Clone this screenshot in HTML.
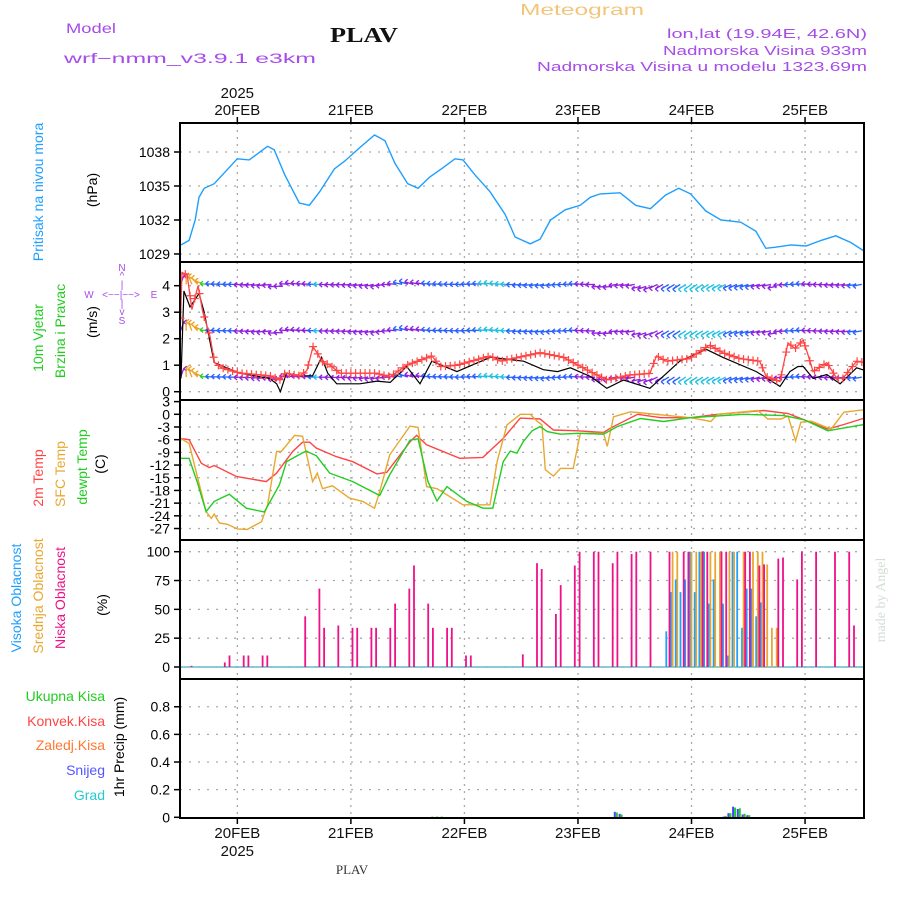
<!DOCTYPE html>
<html><head><meta charset="utf-8"><title>Meteogram PLAV</title>
<style>
html,body{margin:0;padding:0;background:#fff;}
svg{display:block;font-family:"Liberation Sans",sans-serif;}
</style></head>
<body>
<svg id="chart" width="900" height="900" viewBox="0 0 900 900" xmlns="http://www.w3.org/2000/svg">
<rect width="900" height="900" fill="#fff"/>
<g>
<text x="66" y="33" font-size="14" fill="#a64ce8" textLength="50" lengthAdjust="spacingAndGlyphs">Model</text>
<text x="64" y="63" font-size="14" fill="#a64ce8" textLength="252" lengthAdjust="spacingAndGlyphs">wrf−nmm_v3.9.1  e3km</text>
<text x="330" y="42" font-size="21" font-weight="bold" font-family="Liberation Serif, serif" fill="#111" textLength="68" lengthAdjust="spacingAndGlyphs">PLAV</text>
<text x="520" y="15" font-size="16" fill="#f2c67a" textLength="124" lengthAdjust="spacingAndGlyphs">Meteogram</text>
<text x="867" y="38" font-size="13" fill="#a64ce8" text-anchor="end" textLength="200" lengthAdjust="spacingAndGlyphs">lon,lat (19.94E, 42.6N)</text>
<text x="867" y="55" font-size="13" fill="#a64ce8" text-anchor="end" textLength="204" lengthAdjust="spacingAndGlyphs">Nadmorska Visina 933m</text>
<text x="867" y="71" font-size="13" fill="#a64ce8" text-anchor="end" textLength="330" lengthAdjust="spacingAndGlyphs">Nadmorska Visina u modelu 1323.69m</text>
</g>
<g font-size="14">
<text transform="translate(43,192) rotate(-90)" text-anchor="middle" fill="#1e9fff">Pritisak na nivou mora</text>
<text transform="translate(97,190) rotate(-90)" text-anchor="middle" fill="#000">(hPa)</text>
<text transform="translate(43,338) rotate(-90)" text-anchor="middle" fill="#22cc22">10m Vjetar</text>
<text transform="translate(65,331) rotate(-90)" text-anchor="middle" fill="#22cc22">Brzina i Pravac</text>
<text transform="translate(97,322) rotate(-90)" text-anchor="middle" fill="#000">(m/s)</text>
<g fill="#a64ce8" font-size="10" text-anchor="middle">
<text x="122" y="271">N</text><text x="122" y="279">^</text><text x="122" y="288">|</text>
<text x="89" y="298">W</text><text x="121" y="298">&lt;−−|−−&gt;</text><text x="154" y="298">E</text>
<text x="122" y="307">|</text><text x="122" y="315">v</text><text x="122" y="324">S</text>
</g>
<text transform="translate(43,478) rotate(-90)" text-anchor="middle" fill="#ff4444">2m Temp</text>
<text transform="translate(65,474) rotate(-90)" text-anchor="middle" fill="#e8a830">SFC Temp</text>
<text transform="translate(87,467) rotate(-90)" text-anchor="middle" fill="#22cc22">dewpt Temp</text>
<text transform="translate(105,464) rotate(-90)" text-anchor="middle" fill="#000">(C)</text>
<text transform="translate(21,598) rotate(-90)" text-anchor="middle" fill="#1e9fff">Visoka Oblacnost</text>
<text transform="translate(43,596) rotate(-90)" text-anchor="middle" fill="#e8a830">Srednja Oblacnost</text>
<text transform="translate(65,598) rotate(-90)" text-anchor="middle" fill="#ee1188">Niska Oblacnost</text>
<text transform="translate(107,605) rotate(-90)" text-anchor="middle" fill="#000">(%)</text>
<text x="105" y="701" text-anchor="end" fill="#22cc22">Ukupna  Kisa</text>
<text x="105" y="726" text-anchor="end" fill="#ff4444">Konvek.Kisa</text>
<text x="105" y="750" text-anchor="end" fill="#ff7733">Zaledj.Kisa</text>
<text x="105" y="775" text-anchor="end" fill="#5555ff">Snijeg</text>
<text x="105" y="800" text-anchor="end" fill="#22cccc">Grad</text>
<text transform="translate(124,747) rotate(-90)" text-anchor="middle" fill="#000">1hr Precip (mm)</text>
<text transform="translate(885,600) rotate(-90)" text-anchor="middle" fill="#d4ddd4" font-family="Liberation Serif, serif">made by Angel</text>
<text x="352" y="874" text-anchor="middle" font-size="13" font-family="Liberation Serif, serif" fill="#333">PLAV</text>
</g>
<g id="plot"></g>
</svg>
<script>
// ---------- data ----------
const dayLabels = ["20FEB","21FEB","22FEB","23FEB","24FEB","25FEB"];
const dayHours = [24,48,72,96,120,144];
const presTicks = [1029,1032,1035,1038];
const windTicks = [0,1,2,3,4];
const tempTicks = [3,0,-3,-6,-9,-12,-15,-18,-21,-24,-27];
const cloudTicks = [0,25,50,75,100];
const precipTicks = [0,0.2,0.4,0.6,0.8];

const presT = [12.1,13.8,15.1,15.9,17,19.1,24,26.5,30.4,31.8,34,37.1,39.2,41.4,44.5,46.7,49.9,53,55.2,57.3,60,62.2,64.7,67.4,70,71.7,74.2,77.4,80.6,82.7,85.9,88,90.2,93.3,96.5,98.6,100.7,104.9,108.2,111.3,114.5,117.3,119.8,123,126.2,130.4,133.6,135.7,137.8,141,144.2,147.4,150.5,153.7,156.7];
const presV = [1029.8,1030.2,1032,1034,1034.8,1035.2,1037.4,1037.3,1038.5,1038.2,1036,1033.5,1033.3,1034.5,1036.5,1037.2,1038.4,1039.5,1039,1037,1035.2,1034.8,1035.8,1036.6,1037.4,1037.3,1036,1034.5,1032.5,1030.5,1029.9,1030.3,1032,1032.9,1033.3,1034,1034.3,1034.4,1033.3,1033,1034.2,1034.8,1034.3,1032.8,1032,1031.8,1031,1029.5,1029.6,1029.8,1029.7,1030.2,1030.6,1030,1029.2];

const gustT = [11.9,12.3,13.4,14.4,15.7,16.7,18.2,19.2,20.7,24.6,30.9,33,34.1,37.2,38.7,40,41.1,42.1,43.6,45.7,49.9,53.1,56.3,59.8,65.1,66.9,70.4,77.5,79.6,88,92.9,95,98.7,102.1,107,111.2,112.6,114.7,119.5,123.8,126.6,130.2,134.4,135.8,138.7,140.4,141.9,143.6,144.6,145.7,148.6,150.7,152,154.9,156.7];
const gustV = [2.2,4.5,4.4,3.1,4.0,3.0,2.1,1.1,0.9,0.7,0.6,0.45,0.7,0.6,0.8,1.7,1.4,1.1,1.0,0.7,0.7,0.7,0.57,1.0,1.35,0.95,1.0,1.35,1.15,1.47,1.3,1.1,0.75,0.44,0.63,0.69,1.35,1.15,1.25,1.76,1.47,1.25,1.15,0.57,0.38,1.84,1.63,1.95,1.4,0.76,1.1,0.5,0.5,1.15,1.1];
const speedT = [12.1,12.7,14,15.9,17,18.1,19.1,24.4,30.8,32.3,33.1,34.4,37.1,39.9,41.8,43.1,45,49.9,53.5,56.3,59.8,62.6,65.1,70.4,77.5,84.5,88.7,91.7,94.4,98.7,102.1,105.6,111.2,114.7,117.5,123.1,126.6,133.7,138.7,140.8,142.5,143.6,145.7,148.6,151.4,154.9,156.7];
const speedV = [0.5,3.8,3.2,3.7,3.0,2.0,1.1,0.7,0.5,0.3,0.0,0.7,0.6,0.6,1.3,0.7,0.3,0.3,0.4,0.35,0.95,0.3,1.15,0.76,1.3,1.15,0.83,0.76,0.9,0.57,0.13,0.44,0.13,0.69,1.15,1.6,1.3,0.76,0.2,0.76,0.95,0.95,0.5,0.65,0.3,0.9,0.8];
// wind direction (deg, from) every 6h starting at 12h
const dirT = [12,18,24,30,36,42,48,54,60,66,72,78,84,90,96,102,108,114,120,126,132,138,144,150,156];
const dirV = [200,95,90,80,100,90,85,75,110,95,90,100,85,80,95,85,80,60,55,60,70,80,95,85,80];

const t2T = [11.7,13.8,16.4,18.1,19.1,23.8,30.1,32.3,35.7,37.8,39.3,40.7,44.9,48.4,53.5,55.6,60.5,61.9,64,71,75.9,80.2,83.8,88,90.8,95.9,101.4,102.8,108.6,113.5,119.8,125.5,135.3,140.4,143.8,148.8,152.2,155.9,156.7];
const t2V = [-5.7,-6,-11.6,-12.6,-12.1,-14.7,-15.9,-13.9,-8.8,-6.6,-6.6,-8,-10,-11.2,-14.1,-13.7,-6.5,-5,-7.2,-10.4,-10.2,-5.7,-0.9,-1.1,-3.7,-3.9,-4.3,-3.3,0,-0.8,-0.8,0,0.9,0.2,-1.3,-3.5,-2.4,-1.1,-0.9];
const sfcT = [10,13.8,17.4,18.5,19.1,20.2,21.9,24,26.1,29.1,30.4,32.3,33.3,36.1,37.8,39.9,40.9,42,44.1,47.7,50.5,53,54.1,56.2,60.5,62.2,64,66.2,71.7,77.4,78.9,81,83.8,85.9,87.4,88.4,89.1,90.8,92.3,95,96.5,101.4,102.2,103.5,107.1,110.7,119.8,124.1,125.5,134,136.1,138.9,140.4,142,143.1,145.3,149.5,152.2,155.9,156.7];
const sfcV = [-4.3,-6.9,-23,-24.6,-23.6,-25.7,-26,-27.1,-27.2,-25.4,-21.4,-8.8,-8.8,-5,-5.2,-15.9,-13.9,-17.6,-16.9,-19.8,-20.6,-22.2,-18.3,-9.6,-2.8,-3.1,-17.1,-17.6,-21.4,-21.4,-11.2,-2.5,0,0,-1.7,-2.5,-13.1,-14.6,-12.8,-12.8,-4.5,-4.5,-7.6,-0.6,0.6,0.2,-0.8,-1.7,0,0.9,-1.1,-1.1,-0.4,-6.3,-1.9,-1.6,-3.5,0.5,1,1];
const dewT = [9.6,11.1,13.8,15.5,17.4,19.1,22.3,25.9,29.7,32.9,34.4,37.8,38.6,40.7,43.5,48.4,54.1,56.2,60.5,62.2,64.3,66.2,68.3,72.5,75.9,78,80.2,81.7,83.1,84.4,86.3,88,89.5,92.3,95.9,101.4,104.3,109.2,114.1,119.8,131,139.5,143.8,148.8,155.9,156.7];
const dewV = [-12,-10.4,-10.4,-15.9,-23,-20.6,-18.9,-22.2,-23.1,-16.7,-11.2,-9.1,-8.7,-9.8,-13.9,-15.9,-19.2,-14.3,-6.1,-5.8,-15.9,-20.5,-17.1,-20.6,-22.2,-22.2,-11.2,-8.7,-9.2,-6.5,-3.9,-2.9,-4.1,-4.7,-4.5,-4.7,-2.9,-1,-1.7,-0.8,0,-0.3,-1.3,-3.9,-2.5,-2.4];

const lowH = [14,21,22,25,26,29,30,38,41,42,45,48,49,52,53,56,57,60,61,64,65,68,69,72,73,84,87,88,91,92,95,96,99,100,103,104,107,108,111,115,118,119,122,123,126,127,131,132,134,135,138,139,142,143,146,150,153,154];
const lowV = [1,4,10,10,10,10,10,44,68,34,36,34,34,34,34,34,55,68,88,55,34,34,34,10,10,11,90,85,46,71,88,100,100,100,90,100,98,100,100,100,100,100,100,100,100,100,100,100,88,89,94,95,76,100,100,100,100,36];
const midH = [116,117,120,121,122,124,125,126,128,129,131,133,134,135,136,137,138];
const midV = [100,100,100,100,100,100,100,100,100,100,100,100,100,100,89,34,34];
const highH = [115,116,117,118,119,120,121,122,123,124,125,127,128,129,130,131,132,133,134,135];
const highV = [31,65,76,65,76,100,65,100,100,55,76,55,10,100,100,34,68,68,44,56];

const precipH = [65,66,67,104,105,127,128,129,130,131,132];
const rainV = [0.005,0.005,0.005,0.035,0.02,0.01,0.03,0.07,0.065,0.025,0.015];
const snowV = [0,0,0,0.04,0.025,0.005,0.03,0.077,0.06,0.02,0.015];

// ---------- scales ----------
const L=180,R=864;
const X = h => 123.8 + 4.731*h;
const P = {pres:[123,262],wind:[262,400],temp:[400,540],cloud:[540,679],precip:[679,818]};
const yPres = v => 152 + (1038-v)*11.33;
const yWind = v => 391.7 - v*26.5;
const yTemp = v => 414.3 - v*4.23;
const yCloud = v => 667 - v*1.153;
const yPrecip = v => 817.3 - v*138.2;

const NS="http://www.w3.org/2000/svg";
const plot=document.getElementById('plot');
function el(tag,attrs,parent){const e=document.createElementNS(NS,tag);for(const k in attrs)e.setAttribute(k,attrs[k]);(parent||plot).appendChild(e);return e;}
function interp(ts,vs,h){if(h<=ts[0])return vs[0];for(let i=1;i<ts.length;i++){if(h<=ts[i]){const f=(h-ts[i-1])/(ts[i]-ts[i-1]);return vs[i-1]+f*(vs[i]-vs[i-1]);}}return vs[vs.length-1];}

// clip
const defs=el('defs',{});
Object.keys(P).forEach(k=>{const c=el('clipPath',{id:'clip-'+k},defs);el('rect',{x:L,y:P[k][0],width:R-L,height:P[k][1]-P[k][0]},c);});

// grids and ticks
function panelGrid(key,ticks,yf,fmt){
  const g=el('g',{});
  
  
  dayHours.forEach(h=>{const l=el('line',{x1:X(h),x2:X(h),y1:P[key][0],y2:P[key][1],stroke:'#aaa','stroke-width':1.3,'stroke-dasharray':'2,5'},g);});
  ticks.forEach(t=>{
    const y=yf(t);
    if(y>P[key][0]+3 && y<P[key][1]-3) el('line',{x1:L,x2:R,y1:y,y2:y,stroke:'#aaa','stroke-width':1.3,'stroke-dasharray':'2,7'},g);
    el('line',{x1:L-6,x2:L,y1:y,y2:y,stroke:'#000','stroke-width':1.5},g);
    const tx=el('text',{x:L-10,y:y+5,'text-anchor':'end','font-size':14,fill:'#000'},g);
    
    
    tx.textContent=fmt?fmt(t):t;
  });
}
panelGrid('pres',presTicks,yPres);
panelGrid('wind',windTicks,yWind);
panelGrid('temp',tempTicks,yTemp);
panelGrid('cloud',cloudTicks,yCloud);
panelGrid('precip',precipTicks,yPrecip,t=>t===0?'0':t.toFixed(1));

// pressure
function line(ts,vs,yf,key,color,name,w){
  const d=ts.map((t,i)=>(i?'L':'M')+X(t).toFixed(1)+','+yf(vs[i]).toFixed(1)).join('');
  const p=el('path',{d:d,fill:'none',stroke:color,'stroke-width':w||1.4,'clip-path':'url(#clip-'+key+')'});
  
  
  return p;
}
line(presT,presV,yPres,'pres','#1e9fff','pressure-line');

// wind arrows
const wg=el('g',{'clip-path':'url(#clip-wind)'});


const rowLevels=[4.05,2.3,0.55];
function spdColor(s){if(s>2.5)return '#f0a020';if(s>1.6)return '#30d030';if(s>1.2)return '#20c0e0';if(s>0.7)return '#2a60ff';return '#9020e0';}
for(let h=12;h<=156;h+=1.2){
  const s=interp(speedT,speedV,h), dir=interp(dirT,dirV,h)*Math.PI/180;
  const col=spdColor(s);
  rowLevels.forEach(lv=>{
    const x=X(h), y=yWind(lv)+(s<0.3?2:0);
    const dx=-Math.sin(dir)*9, dy=Math.cos(dir)*9;
    const a=el('path',{d:`M${x.toFixed(1)},${y.toFixed(1)}l${dx.toFixed(1)},${dy.toFixed(1)}m0,0l3,-2.5m-3,2.5l3,2.5`,stroke:col,'stroke-width':1.3,fill:'none'},wg);
    
    
  });
}
line(speedT,speedV,yWind,'wind','#000','wind-speed-line',1.2);
line(gustT,gustV,yWind,'wind','#ff4444','wind-gust-line',1.3);
const gm=el('g',{'clip-path':'url(#clip-wind)'});


for(let h=12;h<=156;h++){
  const x=X(h),y=yWind(interp(gustT,gustV,h));
  const m=el('path',{d:`M${x-4},${y}h8M${x},${y-4}v8`,stroke:'#ff4444','stroke-width':1.2},gm);
  
  
}

// temperatures
line(t2T,t2V,yTemp,'temp','#ff4444','temp-2m-line');
line(sfcT,sfcV,yTemp,'temp','#e8a830','temp-sfc-line');
line(dewT,dewV,yTemp,'temp','#22cc22','dewpoint-line');

// clouds
el('line',{x1:L,x2:R,y1:yCloud(0),y2:yCloud(0),stroke:'#66bbcc','stroke-width':1.5});
function bars(hs,vs,yf,key,color,off,w,name){
  const g=el('g',{'clip-path':'url(#clip-'+key+')'});
  
  
  hs.forEach((h,i)=>{
    if(vs[i]<=0)return;
    const y0=yf(0),y1=yf(vs[i]);
    const r=el('rect',{x:(X(h)+off-w/2).toFixed(1),y:y1.toFixed(1),width:w,height:(y0-y1).toFixed(1),fill:color},g);
    
    
  });
}
bars(highH,highV,yCloud,'cloud','#1ea0ff',-1.6,1.8,'high-cloud-bar');
bars(midH,midV,yCloud,'cloud','#e8a830',0,1.8,'mid-cloud-bar');
bars(lowH,lowV,yCloud,'cloud','#ee1188',1.6,1.8,'low-cloud-bar');

// precip
bars(precipH,snowV,yPrecip,'precip','#4444ff',-1,2,'snow-bar');
bars(precipH,rainV,yPrecip,'precip','#22cc22',1,2,'rain-bar');

// frames
Object.keys(P).forEach(k=>{
  const r=el('rect',{x:L,y:P[k][0],width:R-L,height:P[k][1]-P[k][0],fill:'none',stroke:'#000','stroke-width':2});
  
  
});
// time axis labels & ticks
dayHours.forEach((h,i)=>{
  const x=X(h);
  el('line',{x1:x,x2:x,y1:117,y2:123,stroke:'#000','stroke-width':1.5});
  el('line',{x1:x,x2:x,y1:818,y2:824,stroke:'#000','stroke-width':1.5});
  const t=el('text',{x:x,y:115,'text-anchor':'middle','font-size':15,fill:'#111'});
  
  
  t.textContent=dayLabels[i];
  const b=el('text',{x:x,y:838,'text-anchor':'middle','font-size':15,fill:'#111'});
  
  
  b.textContent=dayLabels[i];
});
const y1=el('text',{x:X(24),y:98,'text-anchor':'middle','font-size':15,fill:'#111'});


y1.textContent='2025';
const y2=el('text',{x:X(24),y:856,'text-anchor':'middle','font-size':15,fill:'#111'});


y2.textContent='2025';
</script>
</body></html>
